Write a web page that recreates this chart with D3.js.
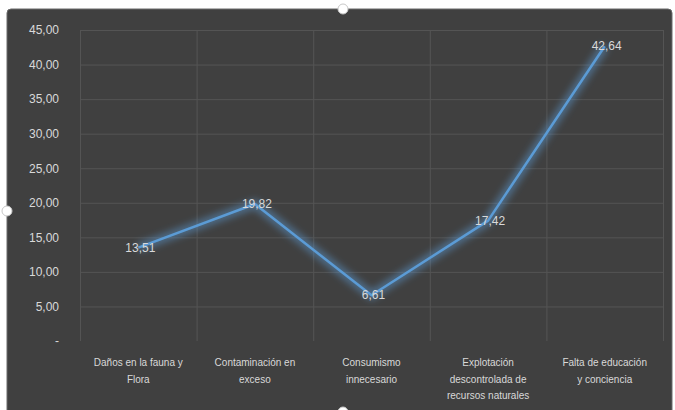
<!DOCTYPE html>
<html>
<head>
<meta charset="utf-8">
<script src="https://cdn.jsdelivr.net/npm/d3@7"></script>
<style>
  body { margin: 0; background: #ffffff; }
  text { font-family: "Liberation Sans", "DejaVu Sans", sans-serif; }
</style>
</head>
<body>
<script>
// tamaño del SVG
var w = 675;
var h = 410;

// datos
var categories = [
    ["Daños en la fauna y", "Flora"],
    ["Contaminación en", "exceso"],
    ["Consumismo", "innecesario"],
    ["Explotación", "descontrolada de", "recursos naturales"],
    ["Falta de educación", "y conciencia"]
];
var values = [13.51, 19.82, 6.61, 17.42, 42.64];
var yTicks = [0, 5, 10, 15, 20, 25, 30, 35, 40, 45];

// colores
var bgColor = "#404040";
var gridColor = "#545454";
var textColor = "#d9d9d9";
var lineColor = "#5b9bd5";

// área del gráfico
var plotLeft = 80, plotRight = 663, plotTop = 30, plotBottom = 341;

var fmt = function (d) {
    return d === 0 ? "-" : d.toFixed(2).replace(".", ",");
};

var svg = d3.select("body").append("svg")
    .attr("width", w)
    .attr("height", h);

// filtro de resplandor
var defs = svg.append("defs");
var glow = defs.append("filter")
    .attr("id", "glow")
    .attr("x", "-20%").attr("y", "-20%")
    .attr("width", "140%").attr("height", "140%");
glow.append("feGaussianBlur")
    .attr("in", "SourceGraphic")
    .attr("stdDeviation", 3.5);

// fondo oscuro
svg.append("rect")
    .attr("x", 7)
    .attr("y", 9)
    .attr("width", 665)
    .attr("height", 405)
    .attr("rx", 4)
    .attr("fill", bgColor)
    .attr("stroke", "#6a6a6a")
    .attr("stroke-width", 1);

var x = d3.scaleBand()
    .domain(d3.range(categories.length))
    .range([plotLeft, plotRight]);

var y = d3.scaleLinear()
    .domain([0, 45])
    .range([plotBottom, plotTop]);

// líneas de cuadrícula horizontales (sin la de cero)
svg.append("g")
    .selectAll("line")
    .data(yTicks.filter(function (d) { return d > 0; }))
    .enter()
    .append("line")
    .attr("x1", plotLeft)
    .attr("x2", plotRight)
    .attr("y1", function (d) { return y(d) + 0.5; })
    .attr("y2", function (d) { return y(d) + 0.5; })
    .attr("stroke", gridColor)
    .attr("stroke-width", 1);

// líneas de cuadrícula verticales
svg.append("g")
    .selectAll("line")
    .data(d3.range(categories.length + 1))
    .enter()
    .append("line")
    .attr("x1", function (d) { return d < categories.length ? x(d) + 0.5 : plotRight + 0.5; })
    .attr("x2", function (d) { return d < categories.length ? x(d) + 0.5 : plotRight + 0.5; })
    .attr("y1", plotTop)
    .attr("y2", plotBottom)
    .attr("stroke", gridColor)
    .attr("stroke-width", 1);

// etiquetas del eje Y
var yAxis = d3.axisLeft(y)
    .tickValues(yTicks)
    .tickFormat(fmt)
    .tickSize(0)
    .tickPadding(0);

var gy = svg.append("g")
    .attr("transform", "translate(59,0)")
    .call(yAxis);
gy.select(".domain").remove();
gy.selectAll("text")
    .attr("fill", textColor)
    .attr("font-size", "12px");

// etiquetas del eje X
var gx = svg.append("g");
categories.forEach(function (lines, i) {
    var t = gx.append("text")
        .attr("x", x(i) + x.bandwidth() / 2)
        .attr("y", 366)
        .attr("text-anchor", "middle")
        .attr("font-size", "10px")
        .attr("fill", textColor);
    lines.forEach(function (s, j) {
        t.append("tspan")
            .attr("x", x(i) + x.bandwidth() / 2)
            .attr("dy", j === 0 ? 0 : 16.5)
            .text(s);
    });
});

// línea
var line = d3.line()
    .x(function (d, i) { return x(i) + x.bandwidth() / 2; })
    .y(function (d) { return y(d); });

svg.append("path")
    .datum(values)
    .attr("d", line)
    .attr("fill", "none")
    .attr("stroke", lineColor)
    .attr("stroke-opacity", 0.5)
    .attr("stroke-width", 9)
    .attr("filter", "url(#glow)");

svg.append("path")
    .datum(values)
    .attr("d", line)
    .attr("fill", "none")
    .attr("stroke", lineColor)
    .attr("stroke-width", 2.5)
    .attr("stroke-linejoin", "round");

// etiquetas de datos
svg.append("g")
    .selectAll("text")
    .data(values)
    .enter()
    .append("text")
    .attr("x", function (d, i) { return x(i) + x.bandwidth() / 2 + 2; })
    .attr("y", function (d) { return y(d) + 4; })
    .attr("text-anchor", "middle")
    .attr("font-size", "12px")
    .attr("fill", textColor)
    .text(fmt);

// tiradores de selección
var handles = [[343, 9], [7, 211], [343, 412]];
svg.append("g")
    .selectAll("circle")
    .data(handles)
    .enter()
    .append("circle")
    .attr("cx", function (d) { return d[0]; })
    .attr("cy", function (d) { return d[1]; })
    .attr("r", 5)
    .attr("fill", "#ffffff")
    .attr("stroke", "#c8c8c8");
</script>
</body>
</html>
